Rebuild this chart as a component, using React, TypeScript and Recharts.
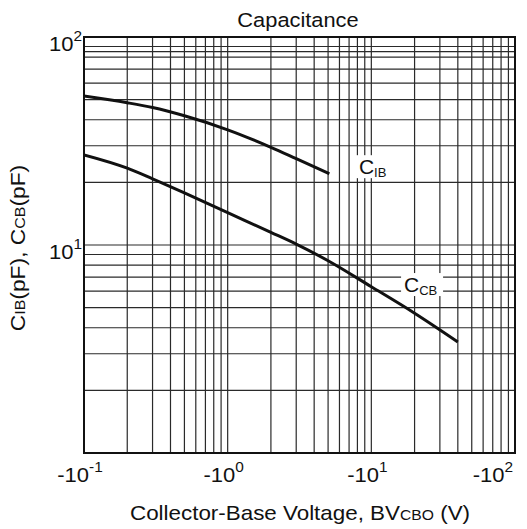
import {
  CartesianGrid,
  Line,
  LineChart,
  ReferenceArea,
  ReferenceDot,
  XAxis,
  YAxis,
} from "recharts";

const FONT = '"Liberation Sans", Arial, sans-serif';

// grid/tick values (log axes)
const xTicks = [
  0.1, 0.2, 0.3, 0.4, 0.5, 0.6, 0.7, 0.8, 0.9, 1, 2, 3, 4, 5, 6, 7, 8, 9, 10,
  20, 30, 40, 50, 60, 70, 80, 90, 100,
];
const yTicks = [
  1, 2, 3, 4, 5, 6, 7, 8, 9, 10, 20, 30, 40, 50, 60, 70, 80, 85, 90, 100,
];
const xDecades = [0.1, 1, 10, 100];
const xExponents = ["-1", "0", "1", "2"];
const yDecades = [10, 100];
const yExponents = ["1", "2"];

// C_IB curve
const cibVoltage = [0.1, 0.2, 0.3, 0.5, 1, 2, 3, 5.1];
const cibPf = [52, 48.3, 45.8, 41.8, 35.8, 29.5, 26, 22];

// C_CB curve
const ccbVoltage = [0.1, 0.2, 0.3, 0.5, 1, 2, 3, 5, 10, 20, 40];
const ccbPf = [27.1, 23.4, 20.8, 17.8, 14.3, 11.5, 10.1, 8.4, 6.3, 4.7, 3.42];

const cibData = cibVoltage.map((v, i) => ({ v, c: cibPf[i] }));
const ccbData = ccbVoltage.map((v, i) => ({ v, c: ccbPf[i] }));

function XTick({ x, y, payload }: any) {
  const idx = xDecades.indexOf(payload.value);
  if (idx < 0) return null;
  const last = idx === xDecades.length - 1;
  return (
    <g transform={`translate(${x + (last ? -2 : -4)},${y + 29}) scale(1.1,1)`}>
      <text
        textAnchor={last ? "end" : "middle"}
        fontSize={20}
        fontFamily={FONT}
        fill="#111"
      >
        -10
        <tspan dy={-10} fontSize={14}>
          {xExponents[idx]}
        </tspan>
      </text>
    </g>
  );
}

function YTick({ x, y, payload }: any) {
  const idx = yDecades.indexOf(payload.value);
  if (idx < 0) return null;
  return (
    <g transform={`translate(${x - 2},${y + 14}) scale(1.1,1)`}>
      <text textAnchor="end" fontSize={20} fontFamily={FONT} fill="#111">
        10
        <tspan dy={-10} fontSize={14}>
          {yExponents[idx]}
        </tspan>
      </text>
    </g>
  );
}

function CurveLabel({ cx, cy, sub, boxW }: any) {
  return (
    <g>
      <rect x={cx - 3} y={cy - 19} width={boxW} height={23} fill="#fff" />
      <text x={cx} y={cy} fontSize={21} fontFamily={FONT} fill="#111">
        C
        <tspan dy={3} fontSize={13}>
          {sub}
        </tspan>
      </text>
    </g>
  );
}

export default function App() {
  return (
    <div
      style={{
        position: "absolute",
        left: 0,
        top: 0,
        width: 527,
        height: 529,
        background: "#fff",
      }}
    >
      <LineChart
        width={527}
        height={529}
        margin={{ top: 37, right: 12, bottom: 0, left: 0 }}
      >
        <CartesianGrid stroke="#2a2a2a" strokeWidth={1.2} />
        <XAxis
          dataKey="v"
          type="number"
          scale="log"
          domain={[0.1, 100]}
          ticks={xTicks}
          interval={0}
          allowDataOverflow
          height={76}
          tickSize={0}
          tickMargin={0}
          axisLine={false}
          tick={<XTick />}
        />
        <YAxis
          type="number"
          scale="log"
          domain={[1, 100]}
          ticks={yTicks}
          interval={0}
          allowDataOverflow
          width={84}
          tickSize={0}
          tickMargin={0}
          axisLine={false}
          tick={<YTick />}
        />
        <ReferenceArea
          x1={0.1}
          x2={100}
          y1={1}
          y2={100}
          fill="none"
          fillOpacity={0}
          stroke="#111"
          strokeWidth={2}
        />
        <Line
          data={cibData}
          dataKey="c"
          type="monotone"
          stroke="#111"
          strokeWidth={3}
          dot={false}
          isAnimationActive={false}
        />
        <Line
          data={ccbData}
          dataKey="c"
          type="monotone"
          stroke="#111"
          strokeWidth={3}
          dot={false}
          isAnimationActive={false}
        />
        <ReferenceDot
          x={8.2}
          y={21.9}
          r={0}
          shape={(p: any) => <CurveLabel {...p} sub="IB" boxW={33} />}
        />
        <ReferenceDot
          x={16.9}
          y={5.94}
          r={0}
          shape={(p: any) => <CurveLabel {...p} sub="CB" boxW={42} />}
        />
      </LineChart>
      <svg
        width={527}
        height={529}
        style={{ position: "absolute", left: 0, top: 0, pointerEvents: "none" }}
      >
        <g transform="translate(298,27) scale(1.12,1)">
          <text textAnchor="middle" fontSize={19.5} fontFamily={FONT} fill="#111">
            Capacitance
          </text>
        </g>
        <g transform="translate(300,520) scale(1.12,1)">
          <text textAnchor="middle" fontSize={20} fontFamily={FONT} fill="#111">
            Collector-Base Voltage, BV
            <tspan fontSize={14}>CBO</tspan>
            <tspan> (V)</tspan>
          </text>
        </g>
        <g transform="translate(25,248) rotate(-90) scale(1.14,1)">
          <text textAnchor="middle" fontSize={20} fontFamily={FONT} fill="#111">
            C<tspan fontSize={14}>IB</tspan>
            <tspan>(pF), C</tspan>
            <tspan fontSize={14}>CB</tspan>
            <tspan>(pF)</tspan>
          </text>
        </g>
      </svg>
    </div>
  );
}
